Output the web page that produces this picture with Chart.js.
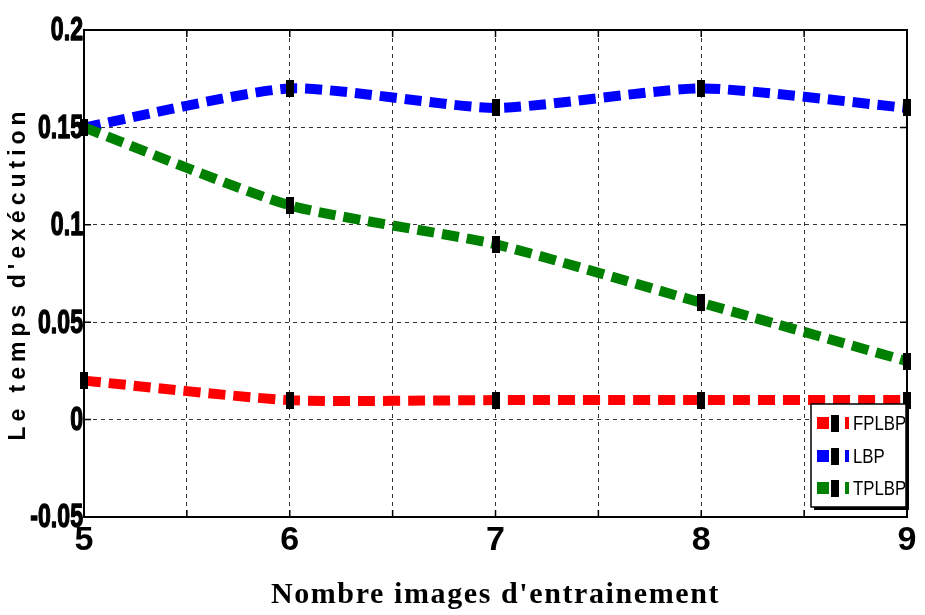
<!DOCTYPE html>
<html>
<head>
<meta charset="utf-8">
<script src="https://cdn.jsdelivr.net/npm/chart.js@4/dist/chart.umd.min.js"></script>
<style>
  html, body { margin: 0; padding: 0; background: #fff; }
  canvas { display: block; }
</style>
</head>
<body>
<canvas id="chart" width="925" height="615"></canvas>
<script>
// Number of training images (x axis)
const trainingImages = [5, 6, 7, 8, 9];

// Execution time per method
const fplbpTimes = [0.02, 0.01, 0.01, 0.01, 0.01];
const lbpTimes   = [0.15, 0.17, 0.16, 0.17, 0.16];
const tplbpTimes = [0.15, 0.11, 0.09, 0.06, 0.03];

const seriesNames  = ['FPLBP', 'LBP', 'TPLBP'];
const seriesColors = ['#ff0000', '#0000ff', '#008000'];

// Axis ranges and steps
const xRange = [5, 9];
const yRange = [-0.05, 0.2];
const xGridStep = 0.5;
const yGridStep = 0.05;

const xTitle = "Nombre images d'entrainement";
const yTitle = "Le temps d'exécution";

const formatY = v => String(Number(v.toFixed(2)));

// Tall black square marker drawn at every data point
function makeMarker(w, h) {
  const c = document.createElement('canvas');
  c.width = w; c.height = h;
  const g = c.getContext('2d');
  g.fillStyle = '#000';
  g.fillRect(0, 0, w, h);
  return c;
}
const marker = makeMarker(8, 17);

// Optional letter spacing for axis titles
const baseDrawTitle = Chart.Scale.prototype.drawTitle;
Chart.Scale.prototype.drawTitle = function () {
  const sp = (this.options.title && this.options.title.spacing) || 0;
  this.ctx.save();
  this.ctx.letterSpacing = sp + 'px';
  baseDrawTitle.call(this);
  this.ctx.restore();
};

// Frame box, inward tick marks, condensed y labels and the boxed legend
const framePlugin = {
  id: 'frame',
  beforeDatasetsDraw(chart) {
    const { ctx, chartArea: a, scales } = chart;
    ctx.save();
    ctx.strokeStyle = '#000';
    ctx.lineWidth = 1.5;
    ctx.setLineDash([]);
    const tl = 7;
    ctx.beginPath();
    scales.x.ticks.forEach(t => {
      const px = scales.x.getPixelForValue(t.value);
      ctx.moveTo(px, a.bottom); ctx.lineTo(px, a.bottom - tl);
      ctx.moveTo(px, a.top); ctx.lineTo(px, a.top + tl);
    });
    scales.y.ticks.forEach(t => {
      const py = scales.y.getPixelForValue(t.value);
      ctx.moveTo(a.left, py); ctx.lineTo(a.left + tl, py);
      ctx.moveTo(a.right, py); ctx.lineTo(a.right - tl, py);
    });
    ctx.stroke();
    ctx.lineWidth = 2;
    ctx.strokeRect(a.left, a.top, a.right - a.left, a.bottom - a.top);
    ctx.restore();
  },
  afterDraw(chart) {
    const { ctx, chartArea: a, scales } = chart;
    ctx.save();
    ctx.setLineDash([]);

    // y tick labels, narrow and heavy, right-aligned on the axis
    ctx.fillStyle = '#000';
    ctx.strokeStyle = '#000';
    ctx.lineWidth = 1.4;
    ctx.lineJoin = 'round';
    ctx.font = 'bold 34px "Liberation Sans", Arial, sans-serif';
    ctx.textAlign = 'right';
    ctx.textBaseline = 'middle';
    scales.y.ticks.forEach(t => {
      const py = scales.y.getPixelForValue(t.value);
      ctx.save();
      ctx.translate(a.left - 1, py + 1);
      ctx.scale(0.68, 1);
      ctx.fillText(formatY(t.value), 0, 0);
      ctx.strokeText(formatY(t.value), 0, 0);
      ctx.restore();
    });

    // legend
    const bx = 811, by = 404, bw = 95, bh = 103;
    ctx.fillStyle = '#000';
    ctx.fillRect(bx + 3, by + 3, bw, bh);
    ctx.fillStyle = '#fff';
    ctx.fillRect(bx, by, bw, bh);
    ctx.strokeStyle = '#000';
    ctx.lineWidth = 1.5;
    ctx.strokeRect(bx, by, bw, bh);
    const rows = [423, 456, 488];
    chart.data.datasets.forEach((ds, i) => {
      const y = rows[i];
      ctx.fillStyle = ds.borderColor;
      ctx.fillRect(bx + 6, y - 6, 12, 12);
      ctx.fillRect(bx + 34, y - 6, 4, 12);
      ctx.fillStyle = '#000';
      ctx.fillRect(bx + 20, y - 8, 8, 17);
      ctx.save();
      ctx.translate(bx + 42, y + 1);
      ctx.scale(0.8, 1);
      ctx.font = '21px "Liberation Sans", Arial, sans-serif';
      ctx.textBaseline = 'middle';
      ctx.textAlign = 'left';
      ctx.fillText(ds.label, 0, 0);
      ctx.restore();
    });
    ctx.restore();
  }
};

const makeSeries = (label, values, color, order) => ({
  label,
  data: trainingImages.map((x, i) => ({ x, y: values[i] })),
  borderColor: color,
  backgroundColor: color,
  borderWidth: 10,
  borderDash: [17, 8],
  borderCapStyle: 'butt',
  tension: 0.2,
  pointStyle: marker,
  pointRadius: 8,
  clip: false,
  order
});

new Chart(document.getElementById('chart'), {
  type: 'line',
  data: {
    datasets: [
      makeSeries(seriesNames[0], fplbpTimes, seriesColors[0], 3),
      makeSeries(seriesNames[1], lbpTimes, seriesColors[1], 2),
      makeSeries(seriesNames[2], tplbpTimes, seriesColors[2], 1)
    ]
  },
  options: {
    responsive: false,
    animation: false,
    events: [],
    layout: { padding: { top: 30, right: 13, left: 0, bottom: 0 } },
    plugins: { legend: { display: false }, tooltip: { enabled: false } },
    scales: {
      x: {
        type: 'linear',
        min: xRange[0],
        max: xRange[1],
        afterFit: s => { s.height = 98; },
        ticks: {
          stepSize: xGridStep,
          autoSkip: false,
          maxRotation: 0,
          padding: 3,
          color: '#000',
          font: { family: '"Liberation Sans", Arial, sans-serif', size: 34, weight: 'bold' },
          callback: v => (Number.isInteger(v) ? String(v) : '')
        },
        grid: { color: '#333', lineWidth: 1, drawTicks: false },
        border: { display: true, color: '#000', width: 2, dash: [4, 4] },
        title: {
          display: true,
          text: xTitle,
          color: '#000',
          spacing: 1.6,
          padding: { top: 0, bottom: 2 },
          font: { family: '"Liberation Serif", "Times New Roman", serif', size: 30, weight: 'bold' }
        }
      },
      y: {
        type: 'linear',
        min: yRange[0],
        max: yRange[1],
        afterFit: s => { s.width = 84; },
        ticks: {
          stepSize: yGridStep,
          display: false,
          callback: formatY
        },
        grid: { color: '#333', lineWidth: 1, drawTicks: false },
        border: { display: true, color: '#000', width: 2, dash: [4, 4] },
        title: {
          display: true,
          text: yTitle,
          color: '#000',
          spacing: 5,
          padding: { top: 5, bottom: 0 },
          font: { family: '"Liberation Sans", Arial, sans-serif', size: 23, weight: 'bold' }
        }
      }
    }
  },
  plugins: [framePlugin]
});
</script>
</body>
</html>
